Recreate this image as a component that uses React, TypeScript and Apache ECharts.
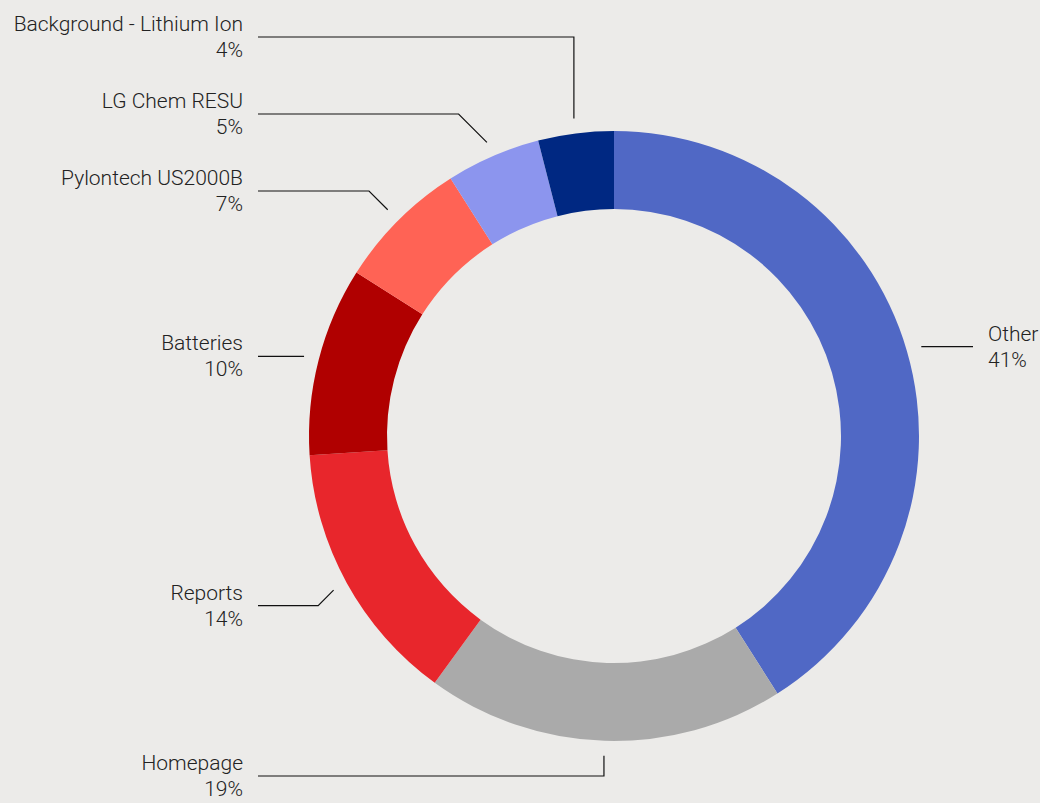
import React, { useEffect, useRef } from "react";
import * as echarts from "echarts";

const categories = [
  "Other",
  "Homepage",
  "Reports",
  "Batteries",
  "Pylontech US2000B",
  "LG Chem RESU",
  "Background - Lithium Ion",
];
const values = [41, 19, 14, 10, 7, 5, 4];
const colors = ["#5068C5", "#AAAAAA", "#E8262C", "#B00000", "#FF6355", "#8C95EE", "#002882"];

const W = 1040;
const H = 803;
const CX = 614;
const CY = 436;
const R_IN = 227;
const R_OUT = 305;
const LINE_GAP = 15; // gap between slice edge and connector start
const LABEL_R = 352; // natural radius for label vertical position
const LABEL_SPACING = 77;
const LABEL_MIN_Y = 37;
const LABEL_MAX_Y = 776;
const SNAP = 12;
const LEFT_TEXT_X = 243;
const RIGHT_TEXT_X = 988;
const TEXT_LINE_PAD = 15;

// Compute label vertical positions from the slice mid-angles (clockwise from top)
function computeLabelYs(): number[] {
  const total = values.reduce((a, b) => a + b, 0);
  let acc = 0;
  const info = values.map((v, i) => {
    const mid = ((acc + v / 2) / total) * Math.PI * 2;
    acc += v;
    const left = Math.sin(mid) < 0;
    const y = CY - LABEL_R * Math.cos(mid);
    return { i, left, y: Math.min(LABEL_MAX_Y, Math.max(LABEL_MIN_Y, y)) };
  });
  const ys = new Array(values.length).fill(0);
  [true, false].forEach((side) => {
    const list = info.filter((d) => d.left === side).sort((a, b) => a.y - b.y);
    for (let k = list.length - 2; k >= 0; k--) {
      list[k].y = Math.min(list[k].y, list[k + 1].y - LABEL_SPACING);
    }
    for (let k = 0; k < list.length; k++) {
      if (k === 0) list[k].y = Math.max(list[k].y, LABEL_MIN_Y);
      else list[k].y = Math.max(list[k].y, list[k - 1].y + LABEL_SPACING);
    }
    list.forEach((d) => (ys[d.i] = d.y));
  });
  return ys;
}

export default function App() {
  const ref = useRef<HTMLDivElement>(null);

  useEffect(() => {
    document.body.style.margin = "0";
    document.body.style.background = "#ECEBE9";
    if (!ref.current) return;
    const chart = echarts.init(ref.current, null, { renderer: "svg" });
    const labelYs = computeLabelYs();

    chart.setOption({
      animation: false,
      backgroundColor: "#ECEBE9",
      series: [
        {
          type: "pie",
          center: [CX, CY],
          radius: [R_IN, R_OUT],
          startAngle: 90,
          clockwise: true,
          silent: true,
          avoidLabelOverlap: false,
          itemStyle: { borderWidth: 0 },
          emphasis: { disabled: true },
          data: categories.map((name, i) => ({
            name,
            value: values[i],
            itemStyle: { color: colors[i] },
          })),
          label: {
            show: true,
            position: "outside",
            formatter: (p: any) => `${p.name}\n${Math.round(p.percent)}%`,
            fontFamily: "Roboto",
            fontWeight: 300,
            fontSize: 21,
            lineHeight: 26,
            color: "#222222",
          },
          labelLine: {
            show: true,
            length: 20,
            length2: 20,
            lineStyle: { color: "#111111", width: 1.2 },
          },
          labelLayout: (params: any) => {
            const pts = params.labelLinePoints;
            const i = params.dataIndex;
            const p0 = pts[0];
            const p1 = pts[1];
            let dx = p1[0] - p0[0];
            let dy = p1[1] - p0[1];
            const len = Math.sqrt(dx * dx + dy * dy) || 1;
            dx /= len;
            dy /= len;
            const sx = p0[0] + dx * LINE_GAP;
            const sy = p0[1] + dy * LINE_GAP;
            let ly = labelYs[i];
            if (Math.abs(ly - sy) < SNAP) ly = sy;
            const left = dx < 0;
            const ex = left ? LEFT_TEXT_X + TEXT_LINE_PAD : RIGHT_TEXT_X - TEXT_LINE_PAD;
            const ddy = Math.abs(ly - sy);
            let bx: number;
            if (Math.abs(dx) < 0.2) bx = sx;
            else bx = left ? sx - ddy : sx + ddy;
            return {
              x: left ? LEFT_TEXT_X : RIGHT_TEXT_X,
              y: ly,
              align: left ? "right" : "left",
              verticalAlign: "middle",
              labelLinePoints: [
                [sx, sy],
                [bx, ly],
                [ex, ly],
              ],
            };
          },
        },
      ],
    });
    return () => chart.dispose();
  }, []);

  return <div ref={ref} style={{ width: W, height: H, background: "#ECEBE9" }} />;
}
